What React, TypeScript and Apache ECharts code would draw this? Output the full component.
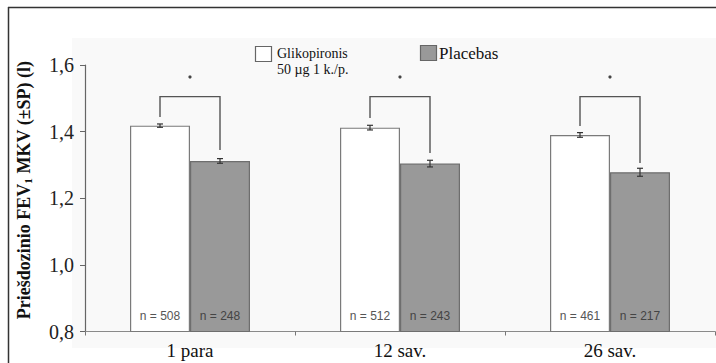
import React, { useEffect, useRef } from "react";
import * as echarts from "echarts";

const categories = ["1 para", "12 sav.", "26 sav."];
const glikoValues = [1.418, 1.412, 1.39];
const placeboValues = [1.312, 1.304, 1.278];
const glikoErr = [0.005, 0.007, 0.007];
const placeboErr = [0.007, 0.01, 0.012];
const glikoN = ["n = 508", "n = 512", "n = 461"];
const placeboN = ["n = 248", "n = 243", "n = 217"];
const bracketTop = [1.505, 1.505, 1.505];
const bracketLeftEnd = [1.444, 1.441, 1.417];
const bracketRightEnd = [1.345, 1.336, 1.306];
const starLevel = [1.564, 1.564, 1.564];
const yTicks = { min: 0.8, max: 1.6, interval: 0.2 };
const legendNames = ["Glikopironis", "Placebas"];
const legendSub = "50 µg 1 k./p.";

const SERIF = "'Liberation Serif', 'DejaVu Serif', serif";
const SANS = "'Liberation Sans', Arial, sans-serif";
const BAR_W = 60;

export default function App() {
  const ref = useRef<HTMLDivElement>(null);
  useEffect(() => {
    if (!ref.current) return;
    const chart = echarts.init(ref.current, null, { renderer: "svg" });

    const errData: number[][] = [];
    glikoValues.forEach((v, i) => errData.push([i, v, glikoErr[i], -1]));
    placeboValues.forEach((v, i) => errData.push([i, v, placeboErr[i], 1]));

    const bracketData = categories.map((_, i) => [
      i,
      bracketTop[i],
      bracketLeftEnd[i],
      bracketRightEnd[i],
      starLevel[i],
    ]);

    const option: any = {
      animation: false,
      backgroundColor: "#ffffff",
      grid: { left: 85, right: 1, top: 65, bottom: 31.5, containLabel: false },
      xAxis: {
        type: "category",
        data: categories,
        axisLine: { lineStyle: { color: "#8a8a8a", width: 1.2 } },
        axisTick: { show: true, length: 4, lineStyle: { color: "#777" } },
        axisLabel: {
          fontFamily: SERIF,
          fontSize: 19,
          color: "#111",
          margin: 9,
        },
      },
      yAxis: {
        type: "value",
        min: yTicks.min,
        max: yTicks.max,
        interval: yTicks.interval,
        splitLine: { show: false },
        axisLine: { show: true, lineStyle: { color: "#666", width: 1.2 } },
        axisTick: { show: true, length: 5, lineStyle: { color: "#666" } },
        axisLabel: {
          fontFamily: SERIF,
          fontSize: 20,
          color: "#222",
          margin: 11,
          formatter: (v: number) => v.toFixed(1).replace(".", ","),
        },
      },
      graphic: [
        {
          type: "rect",
          z: -10,
          silent: true,
          shape: { x: 72, y: 38, width: 644, height: 310 },
          style: { fill: "#f9f9f9" },
        },
        {
          type: "line",
          shape: { x1: 8, y1: 7.5, x2: 716, y2: 7.5 },
          style: { stroke: "#333", lineWidth: 1.5 },
        },
        {
          type: "line",
          shape: { x1: 8.5, y1: 7, x2: 8.5, y2: 363 },
          style: { stroke: "#333", lineWidth: 1.5 },
        },
        {
          type: "text",
          x: 24,
          y: 190,
          rotation: Math.PI / 2,
          style: {
            text: "{a|Priešdozinio FEV}{s|1}{a| MKV (±SP) (l)}",
            align: "center",
            verticalAlign: "middle",
            rich: {
              a: {
                fontFamily: SERIF,
                fontSize: 18,
                fontWeight: "bold",
                fill: "#111",
              },
              s: {
                fontFamily: SERIF,
                fontSize: 11,
                fontWeight: "bold",
                fill: "#111",
                verticalAlign: "bottom",
                padding: [8, 0, 0, 0],
              },
            },
          },
        },
        {
          type: "rect",
          shape: { x: 255.5, y: 46.5, width: 16, height: 15 },
          style: { fill: "#ffffff", stroke: "#666", lineWidth: 1.2 },
        },
        {
          type: "text",
          x: 277,
          y: 53,
          style: {
            text: legendNames[0],
            fontFamily: SERIF,
            fontSize: 14,
            fill: "#111",
            verticalAlign: "middle",
          },
        },
        {
          type: "text",
          x: 277,
          y: 69,
          style: {
            text: legendSub,
            fontFamily: SERIF,
            fontSize: 14,
            fill: "#111",
            verticalAlign: "middle",
          },
        },
        {
          type: "rect",
          shape: { x: 420.5, y: 45.5, width: 16, height: 15 },
          style: { fill: "#999999", stroke: "#666", lineWidth: 1.2 },
        },
        {
          type: "text",
          x: 439,
          y: 53,
          style: {
            text: legendNames[1],
            fontFamily: SERIF,
            fontSize: 17,
            fill: "#111",
            verticalAlign: "middle",
          },
        },
      ],
      series: [
        {
          name: legendNames[0],
          type: "bar",
          data: glikoValues,
          barWidth: BAR_W,
          barGap: "0%",
          itemStyle: { color: "#ffffff", borderColor: "#7a7a7a", borderWidth: 1.2 },
          label: {
            show: true,
            position: "insideBottom",
            distance: 10,
            fontFamily: SANS,
            fontSize: 12,
            color: "#555",
            formatter: (p: any) => glikoN[p.dataIndex],
          },
        },
        {
          name: legendNames[1],
          type: "bar",
          data: placeboValues,
          barWidth: BAR_W,
          barGap: "0%",
          itemStyle: { color: "#999999", borderColor: "#6e6e6e", borderWidth: 1.2 },
          label: {
            show: true,
            position: "insideBottom",
            distance: 10,
            fontFamily: SANS,
            fontSize: 12,
            color: "#444",
            formatter: (p: any) => placeboN[p.dataIndex],
          },
        },
        {
          type: "custom",
          data: errData,
          z: 5,
          encode: { x: 0, y: 1 },
          itemStyle: { color: "#333" },
          renderItem: (params: any, api: any) => {
            const i = api.value(0);
            const v = api.value(1);
            const e = api.value(2);
            const side = api.value(3);
            const base = api.coord([i, v]);
            const x = base[0] + side * (BAR_W / 2);
            const yt = api.coord([i, v + e])[1];
            const yb = api.coord([i, v - e])[1];
            const st = { stroke: "#333", lineWidth: 1.2 };
            return {
              type: "group",
              children: [
                { type: "line", shape: { x1: x, y1: yt, x2: x, y2: yb }, style: st },
                { type: "line", shape: { x1: x - 3, y1: yt, x2: x + 3, y2: yt }, style: st },
                { type: "line", shape: { x1: x - 3, y1: yb, x2: x + 3, y2: yb }, style: st },
              ],
            };
          },
        },
        {
          type: "custom",
          data: bracketData,
          z: 5,
          encode: { x: 0, y: 1 },
          itemStyle: { color: "#444" },
          renderItem: (params: any, api: any) => {
            const i = api.value(0);
            const c = api.coord([i, api.value(1)]);
            const xl = c[0] - BAR_W / 2;
            const xr = c[0] + BAR_W / 2;
            const yTop = c[1];
            const yl = api.coord([i, api.value(2)])[1];
            const yr = api.coord([i, api.value(3)])[1];
            const ys = api.coord([i, api.value(4)])[1];
            return {
              type: "group",
              children: [
                {
                  type: "polyline",
                  shape: { points: [[xl, yl], [xl, yTop], [xr, yTop], [xr, yr]] },
                  style: { stroke: "#555", lineWidth: 1.4, fill: null },
                },
                {
                  type: "circle",
                  shape: { cx: c[0], cy: ys, r: 1.6 },
                  style: { fill: "#444", stroke: null },
                },
              ],
            };
          },
        },
      ],
    };
    chart.setOption(option);
    return () => chart.dispose();
  }, []);

  return (
    <div
      ref={ref}
      style={{ position: "absolute", left: 0, top: 0, width: 716, height: 363 }}
    />
  );
}
